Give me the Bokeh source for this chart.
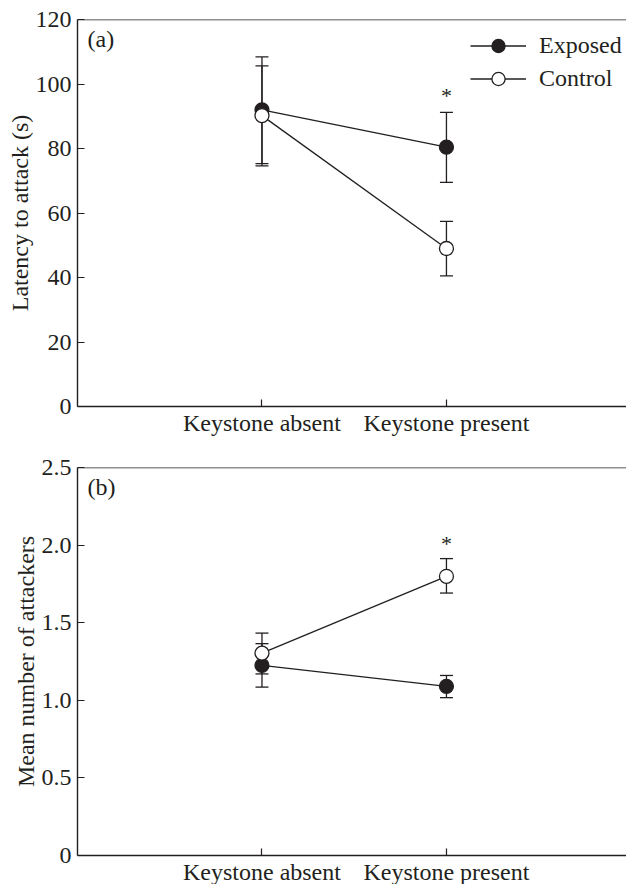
from bokeh.plotting import figure
from bokeh.models import (ColumnDataSource, Whisker, TeeHead, FixedTicker, Legend,
                          LegendItem, Label, Span, Range1d)
from bokeh.layouts import column
from bokeh.embed import file_html
from bokeh.resources import INLINE
from bokeh.core.properties import value

# ---------------- data ----------------
categories = ["Keystone absent", "Keystone present"]
x_pos = [1, 2]

# Panel (a): latency to attack (s)
lat_exposed = [92.0, 80.4]
lat_exposed_up = [108.4, 91.2]
lat_exposed_lo = [74.6, 69.5]
lat_control = [90.2, 49.0]
lat_control_up = [105.6, 57.4]
lat_control_lo = [75.3, 40.5]
lat_sig_x = [2]
lat_sig_y = [96.5]
lat_ticks = [0, 20, 40, 60, 80, 100, 120]
lat_tick_labels = ["0", "20", "40", "60", "80", "100", "120"]

# Panel (b): mean number of attackers
att_exposed = [1.225, 1.09]
att_exposed_up = [1.365, 1.16]
att_exposed_lo = [1.085, 1.017]
att_control = [1.304, 1.799]
att_control_up = [1.433, 1.913]
att_control_lo = [1.17, 1.691]
att_sig_x = [2]
att_sig_y = [2.01]
att_ticks = [0, 0.5, 1.0, 1.5, 2.0, 2.5]
att_tick_labels = ["0", "0.5", "1.0", "1.5", "2.0", "2.5"]

INK = "#231f20"
FONT = "Liberation Serif"
FS = "24px"


def make_panel(tag, ylabel, ymax, ticks, tick_labels, exp, exp_up, exp_lo,
               ctl, ctl_up, ctl_lo, sig_x, sig_y, legend, top_border, bottom_border, fh):
    p = figure(frame_width=549, frame_height=fh, output_backend="svg",
               toolbar_location=None, x_range=Range1d(0, 2.976),
               y_range=Range1d(0, ymax),
               min_border_left=77, min_border_right=0,
               min_border_top=top_border, min_border_bottom=bottom_border)
    p.outline_line_color = None
    p.xgrid.visible = False
    p.ygrid.visible = False
    p.background_fill_color = "white"
    p.border_fill_color = "white"

    p.add_layout(Span(location=ymax, dimension="width", line_color=INK, line_width=1.4))

    for ax in (p.xaxis[0], p.yaxis[0]):
        ax.axis_line_color = INK
        ax.axis_line_width = 1.4
        ax.major_tick_line_color = INK
        ax.major_tick_line_width = 1.2
        ax.major_tick_in = 7
        ax.major_tick_out = 0
        ax.minor_tick_line_color = None
        ax.major_label_text_font = FONT
        ax.major_label_text_font_size = FS
        ax.major_label_text_color = INK
        ax.axis_label_text_font = FONT
        ax.axis_label_text_font_size = FS
        ax.axis_label_text_font_style = "normal"
        ax.axis_label_text_color = INK

    p.xaxis.ticker = FixedTicker(ticks=x_pos)
    p.xaxis.major_label_overrides = {x: c for x, c in zip(x_pos, categories)}
    p.xaxis.major_label_standoff = 3
    p.yaxis.ticker = FixedTicker(ticks=ticks)
    p.yaxis.major_label_overrides = {t: l for t, l in zip(ticks, tick_labels)}
    p.yaxis.major_label_standoff = 6
    p.yaxis.axis_label = ylabel
    p.yaxis.axis_label_standoff = 0

    src_e = ColumnDataSource(dict(x=x_pos, y=exp, up=exp_up, lo=exp_lo))
    src_c = ColumnDataSource(dict(x=x_pos, y=ctl, up=ctl_up, lo=ctl_lo))

    for src in (src_e, src_c):
        w = Whisker(source=src, base="x", upper="up", lower="lo",
                    line_color=INK, line_width=1.3, level="underlay",
                    upper_head=TeeHead(size=13, line_color=INK, line_width=1.3),
                    lower_head=TeeHead(size=13, line_color=INK, line_width=1.3))
        p.add_layout(w)

    le = p.line("x", "y", source=src_e, line_color=INK, line_width=1.3)
    se = p.scatter("x", "y", source=src_e, size=14, fill_color=INK,
                   line_color=INK, line_width=1.2)
    lc = p.line("x", "y", source=src_c, line_color=INK, line_width=1.3)
    sc = p.scatter("x", "y", source=src_c, size=14, fill_color="white",
                   line_color=INK, line_width=1.3)

    p.text(x=sig_x, y=sig_y, text=["*"], text_font=value(FONT),
           text_font_size="22px", text_align="center", text_baseline="middle",
           text_color=INK)

    p.add_layout(Label(x=10, y=fh - 19, x_units="screen", y_units="screen",
                       text=tag, text_font=FONT, text_font_size=FS,
                       text_color=INK, text_baseline="middle"))

    if legend:
        lg = Legend(items=[LegendItem(label="Exposed", renderers=[le, se]),
                           LegendItem(label="Control", renderers=[lc, sc])],
                    location=(393, fh - 13.5 - 62), glyph_width=56, glyph_height=33,
                    label_height=33, spacing=-4, padding=0, margin=0,
                    label_standoff=13, border_line_color=None,
                    background_fill_alpha=0, label_text_font=FONT,
                    label_text_font_size=FS, label_text_color=INK)
        p.add_layout(lg)
    return p


p1 = make_panel("(a)", "Latency to attack (s)", 120, lat_ticks, lat_tick_labels,
                lat_exposed, lat_exposed_up, lat_exposed_lo,
                lat_control, lat_control_up, lat_control_lo,
                lat_sig_x, lat_sig_y, True, 19, 34, 387)
p2 = make_panel("(b)", "Mean number of attackers", 2.5, att_ticks, att_tick_labels,
                att_exposed, att_exposed_up, att_exposed_lo,
                att_control, att_control_up, att_control_lo,
                att_sig_x, att_sig_y, False, 27, 29, 388)

layout = column(p1, p2, spacing=0)
open("out.html", "w").write(file_html(layout, INLINE))
